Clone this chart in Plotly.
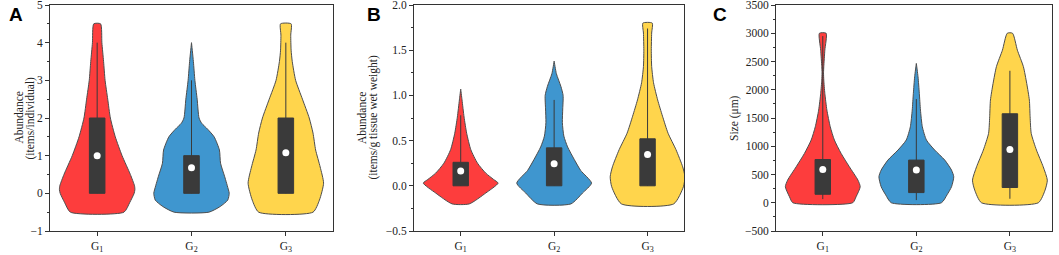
import plotly.graph_objects as go

# ---------------- data ----------------
groups = ["G<sub>1</sub>", "G<sub>2</sub>", "G<sub>3</sub>"]
colors = ["#FD3D3D", "#3F96CF", "#FFD54C"]

# Panel A: abundance (items/individual) - density profiles (relative) at levels
A_lev_G1 = [4.5, 4.0, 3.5, 3.0, 2.5, 2.0, 1.5, 1.0, 0.5, 0.2, 0.1, 0.0, -0.25, -0.5]
A_den_G1 = [0.09, 0.125, 0.17, 0.21, 0.28, 0.35, 0.48, 0.66, 0.88, 0.99, 1.0, 0.98, 0.86, 0.71]
A_lev_G2 = [4.0, 3.5, 3.0, 2.5, 2.0, 1.86, 1.7, 1.5, 1.15, 0.8, 0.44, 0.09, 0.0, -0.18, -0.35, -0.5]
A_den_G2 = [0.0, 0.05, 0.09, 0.15, 0.20, 0.27, 0.43, 0.60, 0.74, 0.77, 0.88, 0.98, 1.0, 0.96, 0.76, 0.46]
A_lev_G3 = [4.5, 4.2, 3.8, 3.5, 3.0, 2.5, 2.0, 1.6, 1.15, 0.7, 0.27, -0.18, -0.5]
A_den_G3 = [0.14, 0.13, 0.14, 0.17, 0.26, 0.44, 0.62, 0.72, 0.79, 0.91, 1.0, 0.89, 0.72]
A_q1 = [0, 0, 0]
A_q3 = [2, 1, 2]
A_upper = [4, 3, 4]
A_lower = [0, 0, 0]
A_median = [1.0, 0.68, 1.08]

# Panel B: abundance (items/g tissue wet weight)
B_lev_G1 = [1.07, 0.95, 0.76, 0.58, 0.40, 0.25, 0.14, 0.07, 0.03, -0.08, -0.2]
B_den_G1 = [0.0, 0.035, 0.09, 0.16, 0.27, 0.45, 0.67, 0.88, 1.0, 0.67, 0.23]
B_lev_G2 = [1.38, 1.24, 1.10, 1.0, 0.85, 0.7, 0.55, 0.43, 0.29, 0.17, 0.03, -0.08, -0.2]
B_den_G2 = [0.0, 0.06, 0.18, 0.24, 0.23, 0.22, 0.26, 0.36, 0.54, 0.71, 1.0, 0.76, 0.45]
B_lev_G3 = [1.8, 1.69, 1.5, 1.32, 1.14, 0.95, 0.77, 0.58, 0.40, 0.21, 0.10, -0.01, -0.2]
B_den_G3 = [0.125, 0.11, 0.10, 0.11, 0.16, 0.27, 0.40, 0.55, 0.76, 0.94, 1.0, 0.96, 0.70]
B_q1 = [0, 0, 0]
B_q3 = [0.26, 0.42, 0.52]
B_upper = [0.78, 0.95, 1.74]
B_lower = [0, 0, 0]
B_median = [0.165, 0.245, 0.345]

# Panel C: size (um)
C_lev_G1 = [3000, 2700, 2410, 2300, 2170, 1935, 1640, 1345, 1110, 873, 637, 400, 283, 106, 0]
C_den_G1 = [0.09, 0.055, 0.027, 0.02, 0.027, 0.055, 0.11, 0.20, 0.31, 0.49, 0.71, 0.94, 1.0, 0.89, 0.80]
C_lev_G2 = [2466, 2230, 1935, 1640, 1345, 1110, 933, 755, 578, 460, 283, 140, 0]
C_den_G2 = [0.0, 0.045, 0.08, 0.11, 0.16, 0.27, 0.49, 0.76, 0.94, 1.0, 0.94, 0.82, 0.67]
C_lev_G3 = [3000, 2700, 2410, 2110, 1817, 1522, 1227, 932, 637, 400, 224, 0]
C_den_G3 = [0.07, 0.20, 0.36, 0.45, 0.52, 0.54, 0.57, 0.71, 0.89, 1.0, 0.94, 0.76]
C_q1 = [150, 180, 270]
C_q3 = [765, 755, 1575]
C_upper = [2950, 1835, 2336]
C_lower = [65, 47, 71]
C_median = [590, 578, 944]

panels = [
    dict(lev=[A_lev_G1, A_lev_G2, A_lev_G3], den=[A_den_G1, A_den_G2, A_den_G3],
         q1=A_q1, q3=A_q3, up=A_upper, lo=A_lower, med=A_median,
         yrange=[-1, 5], dtick=1, minor=0.5, fmt="d", xrange=[0.5, 3.5],
         dom=[50, 333], letter="A", letter_x=7,
         titles=["Abundance", "(items/individual)"], title_x=[18.5, 29.5]),
    dict(lev=[B_lev_G1, B_lev_G2, B_lev_G3], den=[B_den_G1, B_den_G2, B_den_G3],
         q1=B_q1, q3=B_q3, up=B_upper, lo=B_lower, med=B_median,
         yrange=[-0.5, 2.0], dtick=0.5, minor=0.25, fmt=".1f", xrange=[0.5, 3.39],
         dom=[414, 684], letter="B", letter_x=365,
         titles=["Abundance", "(items/g tissue wet weight)"], title_x=[362, 372.5]),
    dict(lev=[C_lev_G1, C_lev_G2, C_lev_G3], den=[C_den_G1, C_den_G2, C_den_G3],
         q1=C_q1, q3=C_q3, up=C_upper, lo=C_lower, med=C_median,
         yrange=[-500, 3500], dtick=500, minor=250, fmt="d", xrange=[0.5, 3.45],
         dom=[776, 1052], letter="C", letter_x=711,
         titles=["Size (μm)"], title_x=[734]),
]

W_MAX = 0.40     # max half width of violins (category units)
BOX_W = 0.165
FIG_W, FIG_H = 1059, 255
TOP_PX, BOT_PX = 5, 231
positions = [1, 2, 3]
DARK = "#3a3a3a"
OUTLINE = "#4d4d4d"
FONT = "Liberation Serif, Times New Roman, serif"

fig = go.Figure()
annotations = []
for i, p in enumerate(panels):
    suffix = "" if i == 0 else str(i + 1)
    xref, yref = "x" + suffix, "y" + suffix
    for g in range(3):
        lev, den = p["lev"][g], p["den"][g]
        pos = positions[g]
        # violin outline: right side bottom->top, left side top->bottom
        xs = [pos + W_MAX * d for d in reversed(den)] + [pos - W_MAX * d for d in den]
        ys = list(reversed(lev)) + list(lev)
        xs.append(xs[0]); ys.append(ys[0])
        fig.add_trace(go.Scatter(x=xs, y=ys, mode="lines", fill="toself",
                                 fillcolor=colors[g],
                                 line=dict(color=OUTLINE, width=1, shape="spline", smoothing=0.6),
                                 xaxis=xref, yaxis=yref, showlegend=False, hoverinfo="skip"))
        # whisker
        fig.add_trace(go.Scatter(x=[pos, pos], y=[p["lo"][g], p["up"][g]], mode="lines",
                                 line=dict(color=DARK, width=1),
                                 xaxis=xref, yaxis=yref, showlegend=False, hoverinfo="skip"))
        # box (q1..q3)
        hb = BOX_W / 2
        fig.add_trace(go.Scatter(x=[pos - hb, pos + hb, pos + hb, pos - hb, pos - hb],
                                 y=[p["q1"][g], p["q1"][g], p["q3"][g], p["q3"][g], p["q1"][g]],
                                 mode="lines", fill="toself", fillcolor=DARK,
                                 line=dict(color=DARK, width=1),
                                 xaxis=xref, yaxis=yref, showlegend=False, hoverinfo="skip"))
        # median dot
        fig.add_trace(go.Scatter(x=[pos], y=[p["med"][g]], mode="markers",
                                 marker=dict(color="white", size=7, line=dict(width=0)),
                                 xaxis=xref, yaxis=yref, showlegend=False))
    axis_common = dict(showline=True, linecolor="#333333", linewidth=1, mirror=True,
                       ticks="outside", ticklen=4, tickcolor="#333333", showgrid=False,
                       zeroline=False, ticklabeloverflow="allow",
                       tickfont=dict(family=FONT, size=11.5, color="#222222"))
    fig.update_layout(**{
        "xaxis" + suffix: dict(axis_common, domain=[p["dom"][0] / FIG_W, p["dom"][1] / FIG_W],
                               range=p["xrange"], tickvals=positions, ticktext=groups,
                               anchor=yref, fixedrange=True, automargin=False),
        "yaxis" + suffix: dict(axis_common, domain=[1 - BOT_PX / FIG_H, 1 - TOP_PX / FIG_H],
                               range=p["yrange"], dtick=p["dtick"], tick0=0,
                               tickformat=p["fmt"], anchor=xref, automargin=False,
                               fixedrange=True,
                               minor=dict(ticks="outside", ticklen=2, dtick=p["minor"],
                                          tickcolor="#333333", showgrid=False)),
    })
    for t, tx in zip(p["titles"], p["title_x"]):
        annotations.append(dict(text=t, textangle=-90, xref="paper", yref="paper",
                                x=tx / FIG_W, y=1 - 118 / FIG_H, xanchor="center",
                                yanchor="middle", showarrow=False,
                                font=dict(family=FONT, size=11.5, color="#222222")))
    annotations.append(dict(text="<b>" + p["letter"] + "</b>", xref="paper", yref="paper",
                            x=p["letter_x"] / FIG_W, y=1 - 2 / FIG_H, xanchor="left",
                            yanchor="top", showarrow=False,
                            font=dict(family="Liberation Sans, Arial, sans-serif", size=19,
                                      color="black")))

fig.update_layout(width=FIG_W, height=FIG_H,
                  margin=dict(l=0, r=0, t=0, b=0, pad=0, autoexpand=False),
                  plot_bgcolor="white", paper_bgcolor="white",
                  annotations=annotations)
fig.write_html("out.html", config={"displayModeBar": False},
               post_script="document.body.style.margin='0';")
